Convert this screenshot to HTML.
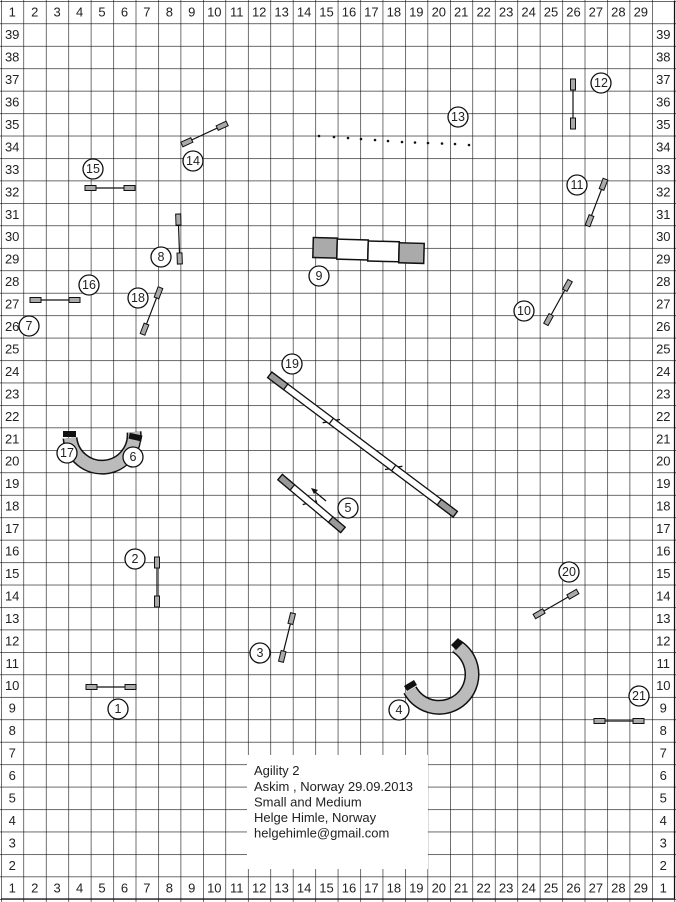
<!DOCTYPE html>
<html><head><meta charset="utf-8"><style>
html,body{margin:0;padding:0;background:#fff}
svg{display:block}
text{font-family:"Liberation Sans",sans-serif;font-size:13px;fill:#222}
.c text{font-size:12.5px}
</style></head><body>
<svg width="676" height="902" viewBox="0 0 676 902" xmlns="http://www.w3.org/2000/svg">
<defs>
<pattern id="g" x="1" y="1" width="22.45" height="22.45" patternUnits="userSpaceOnUse">
<path d="M0 0H22.45M0 0V22.45" stroke="#111" stroke-width="1.2" fill="none"/>
</pattern>
<g id="j"><line x1="-24" y1="0" x2="24" y2="0" stroke="#111" stroke-width="1.2"/><rect x="-25" y="-2.5" width="11" height="5" fill="#aaa" stroke="#111"/><rect x="14" y="-2.5" width="11" height="5" fill="#aaa" stroke="#111"/></g>
</defs>
<rect width="676" height="902" fill="#fff"/>
<rect x="0" y="0" width="676" height="902" fill="url(#g)"/>
<line x1="674.5" y1="1" x2="674.5" y2="899" stroke="#111" stroke-width="1.2"/>
<line x1="1" y1="899" x2="674.5" y2="899" stroke="#111" stroke-width="1.2"/>

<g text-anchor="middle" dominant-baseline="central">
<!-- top labels -->
<text x="12.2" y="12.2">1</text><text x="34.7" y="12.2">2</text><text x="57.1" y="12.2">3</text><text x="79.6" y="12.2">4</text><text x="102" y="12.2">5</text><text x="124.5" y="12.2">6</text><text x="146.9" y="12.2">7</text><text x="169.4" y="12.2">8</text><text x="191.8" y="12.2">9</text><text x="214.3" y="12.2">10</text><text x="236.7" y="12.2">11</text><text x="259.2" y="12.2">12</text><text x="281.6" y="12.2">13</text><text x="304.1" y="12.2">14</text><text x="326.5" y="12.2">15</text><text x="349" y="12.2">16</text><text x="371.4" y="12.2">17</text><text x="393.9" y="12.2">18</text><text x="416.3" y="12.2">19</text><text x="438.8" y="12.2">20</text><text x="461.2" y="12.2">21</text><text x="483.7" y="12.2">22</text><text x="506.1" y="12.2">23</text><text x="528.6" y="12.2">24</text><text x="551" y="12.2">25</text><text x="573.5" y="12.2">26</text><text x="595.9" y="12.2">27</text><text x="618.4" y="12.2">28</text><text x="640.8" y="12.2">29</text>
<!-- bottom labels -->
<text x="12.2" y="887.8">1</text><text x="34.7" y="887.8">2</text><text x="57.1" y="887.8">3</text><text x="79.6" y="887.8">4</text><text x="102" y="887.8">5</text><text x="124.5" y="887.8">6</text><text x="146.9" y="887.8">7</text><text x="169.4" y="887.8">8</text><text x="191.8" y="887.8">9</text><text x="214.3" y="887.8">10</text><text x="236.7" y="887.8">11</text><text x="259.2" y="887.8">12</text><text x="281.6" y="887.8">13</text><text x="304.1" y="887.8">14</text><text x="326.5" y="887.8">15</text><text x="349" y="887.8">16</text><text x="371.4" y="887.8">17</text><text x="393.9" y="887.8">18</text><text x="416.3" y="887.8">19</text><text x="438.8" y="887.8">20</text><text x="461.2" y="887.8">21</text><text x="483.7" y="887.8">22</text><text x="506.1" y="887.8">23</text><text x="528.6" y="887.8">24</text><text x="551" y="887.8">25</text><text x="573.5" y="887.8">26</text><text x="595.9" y="887.8">27</text><text x="618.4" y="887.8">28</text><text x="640.8" y="887.8">29</text><text x="663.3" y="887.8">1</text>
<!-- left labels -->
<text x="12.2" y="34.7">39</text><text x="12.2" y="57.1">38</text><text x="12.2" y="79.6">37</text><text x="12.2" y="102">36</text><text x="12.2" y="124.5">35</text><text x="12.2" y="146.9">34</text><text x="12.2" y="169.4">33</text><text x="12.2" y="191.8">32</text><text x="12.2" y="214.3">31</text><text x="12.2" y="236.7">30</text><text x="12.2" y="259.2">29</text><text x="12.2" y="281.6">28</text><text x="12.2" y="304.1">27</text><text x="12.2" y="326.5">26</text><text x="12.2" y="349">25</text><text x="12.2" y="371.4">24</text><text x="12.2" y="393.9">23</text><text x="12.2" y="416.3">22</text><text x="12.2" y="438.8">21</text><text x="12.2" y="461.2">20</text><text x="12.2" y="483.7">19</text><text x="12.2" y="506.1">18</text><text x="12.2" y="528.6">17</text><text x="12.2" y="551">16</text><text x="12.2" y="573.5">15</text><text x="12.2" y="595.9">14</text><text x="12.2" y="618.4">13</text><text x="12.2" y="640.8">12</text><text x="12.2" y="663.3">11</text><text x="12.2" y="685.7">10</text><text x="12.2" y="708.2">9</text><text x="12.2" y="730.6">8</text><text x="12.2" y="753.1">7</text><text x="12.2" y="775.5">6</text><text x="12.2" y="798">5</text><text x="12.2" y="820.4">4</text><text x="12.2" y="842.9">3</text><text x="12.2" y="865.3">2</text>
<!-- right labels -->
<text x="663.3" y="34.7">39</text><text x="663.3" y="57.1">38</text><text x="663.3" y="79.6">37</text><text x="663.3" y="102">36</text><text x="663.3" y="124.5">35</text><text x="663.3" y="146.9">34</text><text x="663.3" y="169.4">33</text><text x="663.3" y="191.8">32</text><text x="663.3" y="214.3">31</text><text x="663.3" y="236.7">30</text><text x="663.3" y="259.2">29</text><text x="663.3" y="281.6">28</text><text x="663.3" y="304.1">27</text><text x="663.3" y="326.5">26</text><text x="663.3" y="349">25</text><text x="663.3" y="371.4">24</text><text x="663.3" y="393.9">23</text><text x="663.3" y="416.3">22</text><text x="663.3" y="438.8">21</text><text x="663.3" y="461.2">20</text><text x="663.3" y="483.7">19</text><text x="663.3" y="506.1">18</text><text x="663.3" y="528.6">17</text><text x="663.3" y="551">16</text><text x="663.3" y="573.5">15</text><text x="663.3" y="595.9">14</text><text x="663.3" y="618.4">13</text><text x="663.3" y="640.8">12</text><text x="663.3" y="663.3">11</text><text x="663.3" y="685.7">10</text><text x="663.3" y="708.2">9</text><text x="663.3" y="730.6">8</text><text x="663.3" y="753.1">7</text><text x="663.3" y="775.5">6</text><text x="663.3" y="798">5</text><text x="663.3" y="820.4">4</text><text x="663.3" y="842.9">3</text><text x="663.3" y="865.3">2</text>
</g>

<!-- info box -->
<rect x="247" y="755" width="181" height="114" fill="#fff"/>
<g font-size="12.5">
<text x="254" y="775">Agility 2</text>
<text x="254" y="791">Askim , Norway 29.09.2013</text>
<text x="254" y="806.5">Small and Medium</text>
<text x="254" y="822">Helge Himle, Norway</text>
<text x="254" y="837.5">helgehimle@gmail.com</text>
</g>

<!-- jumps -->
<use href="#j" transform="translate(110,188)"/>
<use href="#j" transform="translate(204.5,134) rotate(-25)"/>
<use href="#j" transform="translate(573,104) rotate(90)"/>
<use href="#j" transform="translate(596.5,202.5) rotate(-69)"/>
<use href="#j" transform="translate(179,239) rotate(88)"/>
<use href="#j" transform="translate(55,300)"/>
<use href="#j" transform="translate(151.5,311) rotate(-69)"/>
<use href="#j" transform="translate(558,302.5) rotate(-61)"/>
<use href="#j" transform="translate(157,582) rotate(90)"/>
<use href="#j" transform="translate(287,637.5) rotate(-76)"/>
<use href="#j" transform="translate(111,687)"/>
<use href="#j" transform="translate(556,604) rotate(-30)"/>
<use href="#j" transform="translate(619,721)"/>

<!-- collapsed tunnel dots 13 -->
<g fill="#111">
<circle cx="319" cy="136" r="1.3"/><circle cx="334" cy="137" r="1.3"/><circle cx="348" cy="138" r="1.3"/><circle cx="361" cy="139" r="1.3"/><circle cx="375" cy="140" r="1.3"/><circle cx="388" cy="141" r="1.3"/><circle cx="402" cy="142" r="1.3"/><circle cx="415" cy="142.5" r="1.3"/><circle cx="428" cy="143" r="1.3"/><circle cx="442" cy="143.5" r="1.3"/><circle cx="455" cy="144" r="1.3"/><circle cx="469" cy="145" r="1.3"/>
</g>

<!-- tunnel 9 -->
<g transform="rotate(1.5,369,251)" stroke="#111" stroke-width="1.5">
<rect x="313" y="239" width="24" height="20" fill="#aaa"/>
<rect x="337" y="240" width="31" height="20" fill="#fff"/>
<rect x="368" y="241" width="31" height="20" fill="#fff"/>
<rect x="399" y="242" width="25" height="20" fill="#aaa"/>
</g>

<!-- dogwalk 19 -->
<g transform="translate(362.5,444.5) rotate(36.9)" stroke="#111" stroke-width="1.3">
<rect x="-116" y="-3.5" width="232" height="7" fill="#fff"/>
<rect x="-116" y="-3.5" width="20" height="7" fill="#999"/>
<rect x="96" y="-3.5" width="20" height="7" fill="#999"/>
<line x1="-39" y1="-3.5" x2="-39" y2="3.5"/><line x1="39" y1="-3.5" x2="39" y2="3.5"/>
<path d="M-36 -3.5 l3 -3 M-42 3.5 l-3 3 M42 -3.5 l3 -3 M36 3.5 l-3 3" fill="none"/>
</g>

<!-- seesaw 5 -->
<g transform="translate(311.5,503.5) rotate(40)" stroke="#111" stroke-width="1.3">
<rect x="-41" y="-3.5" width="82" height="7" fill="#fff"/>
<rect x="-41" y="-3.5" width="16" height="7" fill="#999"/>
<rect x="25" y="-3.5" width="16" height="7" fill="#999"/>
<path d="M-4 3.5 l-2 3 M4 -3.5 l-3 -2" fill="none"/>
</g>
<line x1="326" y1="501" x2="314" y2="491" stroke="#111" stroke-width="1.3"/>
<path d="M311 488 L318 490 L314 494 Z" fill="#111"/>

<!-- curved tunnel 17/6 -->
<path d="M70 438 A32 32 0 0 0 134 432" fill="none" stroke="#111" stroke-width="15"/>
<path d="M70 438 A32 32 0 0 0 134 432" fill="none" stroke="#bbb" stroke-width="12"/>
<rect x="63" y="431" width="13" height="6" fill="#111"/>
<rect x="129" y="434" width="13" height="6" fill="#111" transform="rotate(12,135,437)"/>

<!-- curved tunnel 4 -->
<path d="M410 690 A33 33 0 1 0 456 646" fill="none" stroke="#111" stroke-width="15"/>
<path d="M410 690 A33 33 0 1 0 456 646" fill="none" stroke="#bbb" stroke-width="12"/>
<path d="M404 686 L414 680 L417 685 L407 691 Z" fill="#111"/>
<path d="M451 645 L458 638 L463 643 L456 650 Z" fill="#111"/>

<!-- numbered circles -->
<g class="c" text-anchor="middle" dominant-baseline="central">
<g fill="#fff" stroke="#111" stroke-width="1.3">
<circle cx="93" cy="169" r="10"/><circle cx="193" cy="161" r="10"/><circle cx="601" cy="83" r="10"/><circle cx="458" cy="117" r="10"/><circle cx="577" cy="185" r="10"/><circle cx="161" cy="257" r="10"/><circle cx="319" cy="276" r="10"/><circle cx="89" cy="285" r="10"/><circle cx="138" cy="298" r="10"/><circle cx="29" cy="326" r="10"/><circle cx="524" cy="311" r="10"/><circle cx="292" cy="364" r="10"/><circle cx="67" cy="453" r="10"/><circle cx="133" cy="457" r="10"/><circle cx="348" cy="508" r="10"/><circle cx="135" cy="559" r="10"/><circle cx="569" cy="572" r="10"/><circle cx="260" cy="653" r="10"/><circle cx="639" cy="696" r="10"/><circle cx="118" cy="709" r="10"/><circle cx="399" cy="710" r="10"/>
</g>
<text x="93" y="169">15</text><text x="193" y="161">14</text><text x="601" y="83">12</text><text x="458" y="117">13</text><text x="577" y="185">11</text><text x="161" y="257">8</text><text x="319" y="276">9</text><text x="89" y="285">16</text><text x="138" y="298">18</text><text x="29" y="326">7</text><text x="524" y="311">10</text><text x="292" y="364">19</text><text x="67" y="453">17</text><text x="133" y="457">6</text><text x="348" y="508">5</text><text x="135" y="559">2</text><text x="569" y="572">20</text><text x="260" y="653">3</text><text x="639" y="696">21</text><text x="118" y="709">1</text><text x="399" y="710">4</text>
</g>
</svg>
</body></html>
